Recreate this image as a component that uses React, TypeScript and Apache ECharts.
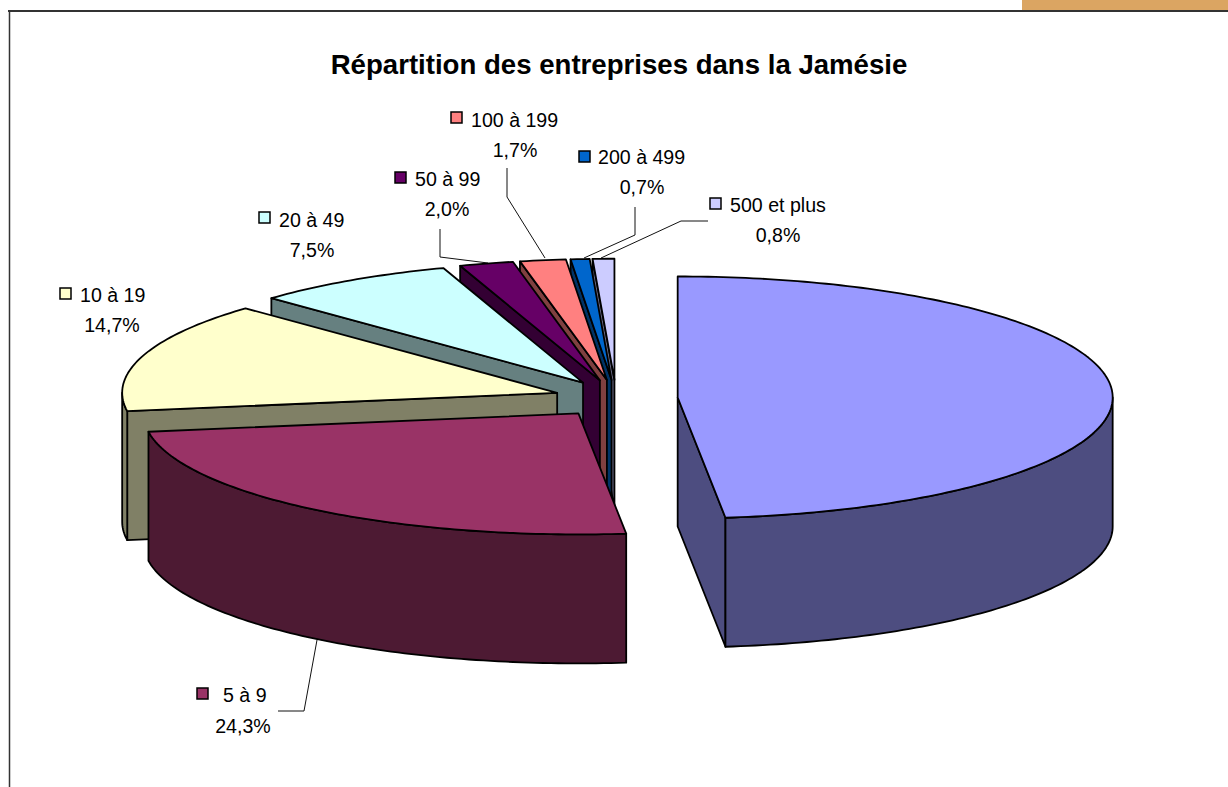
import React, { useEffect, useRef } from "react";
import * as echarts from "echarts";

const TITLE = "Répartition des entreprises dans la Jamésie";
const categories = ["1 à 4", "5 à 9", "10 à 19", "20 à 49", "50 à 99", "100 à 199", "200 à 499", "500 et plus"];
const shares = [48.2, 24.3, 14.7, 7.5, 2.0, 1.7, 0.7, 0.8];
const topColors = ["#9999FF", "#993366", "#FFFFCC", "#CCFFFF", "#660066", "#FF8080", "#0066CC", "#CCCCFF"];
const sideColors = ["#4D4D80", "#4D1A33", "#808066", "#668080", "#330033", "#804040", "#003366", "#666680"];

// Pie geometry (screen pixels)
const CX = 616, CY = 398.5, RX = 435, RY = 121, DEPTH = 129, EXPLODE_X = 0.142, EXPLODE_Y = 0.155;
const FONT = "'Liberation Sans', Arial, sans-serif";
const total = shares.reduce((a, b) => a + b, 0);

// Label placement, in category order: key x, key y, name x, name y, percent x, percent y
const labelLayout = [
  [831, 387, 851, 393, 877, 423],
  [197, 688, 223, 695, 243, 726],
  [60, 288, 80, 295, 112, 325],
  [259, 212, 279, 220, 312, 250],
  [395, 172, 415, 179, 447, 209],
  [451, 112, 471, 120, 515, 150],
  [579, 151, 598, 157, 642, 187],
  [710, 198, 730, 205, 778, 235],
];
const leaderLines = [
  [[507, 168], [507, 197], [545, 258]],
  [[635, 207], [635, 235], [584, 258]],
  [[708, 221], [681, 221], [601, 258]],
  [[440, 229], [440, 257], [488, 263]],
  [[278, 711], [304, 711], [317, 640]],
];

const rad = (d: number) => (d * Math.PI) / 180;

function renderSlice(params: any, api: any) {
  const i = categories.length - 1 - params.dataIndex;
  const before = shares.slice(0, i).reduce((a, b) => a + b, 0);
  const a0 = (before / total) * 360;
  const a1 = a0 + (api.value(0) / total) * 360;
  const mid = rad((a0 + a1) / 2);
  const cx = CX + EXPLODE_X * RX * Math.sin(mid);
  const cy = CY - EXPLODE_Y * RY * Math.cos(mid);
  const pt = (deg: number, dz = 0) => [cx + RX * Math.sin(rad(deg)), cy - RY * Math.cos(rad(deg)) + dz];
  const arc = (from: number, to: number, dz = 0) => {
    const out: number[][] = [];
    const n = Math.max(2, Math.ceil(Math.abs(to - from)));
    for (let k = 0; k <= n; k++) out.push(pt(from + ((to - from) * k) / n, dz));
    return out;
  };
  const style = (fill: string) => ({ fill, stroke: "#000", lineWidth: 1.8, lineJoin: "round" });
  const poly = (points: number[][], fill: string) => ({ type: "polygon", shape: { points }, style: style(fill) });
  const children: any[] = [];
  const side = sideColors[i];
  if (a0 > 180 && a0 < 360) {
    children.push(poly([[cx, cy], pt(a0), pt(a0, DEPTH), [cx, cy + DEPTH]], side));
  }
  if (a1 > 0 && a1 < 180) {
    children.push(poly([[cx, cy], pt(a1), pt(a1, DEPTH), [cx, cy + DEPTH]], side));
  }
  const w0 = Math.max(a0, 90), w1 = Math.min(a1, 270);
  if (w1 > w0) {
    children.push(poly([...arc(w0, w1), ...arc(w1, w0, DEPTH)], side));
  }
  children.push(poly([[cx, cy], ...arc(a0, a1)], topColors[i]));
  return { type: "group", children };
}

function buildGraphics() {
  const els: any[] = [
    { type: "rect", shape: { x: 1022, y: 0, width: 206, height: 10 }, style: { fill: "#DBA562" } },
    { type: "line", shape: { x1: 8, y1: 11, x2: 1228, y2: 11 }, style: { stroke: "#333", lineWidth: 2 } },
    { type: "line", shape: { x1: 9.5, y1: 11, x2: 9.5, y2: 787 }, style: { stroke: "#333", lineWidth: 1.5 } },
  ];
  leaderLines.forEach((points) => {
    els.push({ type: "polyline", shape: { points }, style: { stroke: "#111", lineWidth: 1, fill: "none" } });
  });
  categories.forEach((name, i) => {
    const [kx, ky, nx, ny, px, py] = labelLayout[i];
    const pct = shares[i].toFixed(1).replace(".", ",") + "%";
    els.push({
      type: "rect",
      shape: { x: kx, y: ky, width: 11, height: 11 },
      style: { fill: topColors[i], stroke: "#000", lineWidth: 1.5 },
    });
    els.push({
      type: "text",
      x: nx,
      y: ny,
      style: { text: name, font: `19.6px ${FONT}`, fill: "#000", textAlign: "left", textVerticalAlign: "middle" },
    });
    els.push({
      type: "text",
      x: px,
      y: py,
      style: { text: pct, font: `19.6px ${FONT}`, fill: "#000", textAlign: "center", textVerticalAlign: "middle" },
    });
  });
  return els;
}

export default function App() {
  const ref = useRef<HTMLDivElement>(null);
  useEffect(() => {
    const chart = echarts.init(ref.current!, undefined, { renderer: "svg" });
    chart.setOption({
      animation: false,
      backgroundColor: "#fff",
      title: {
        text: TITLE,
        left: 619,
        top: 45,
        textAlign: "center",
        textStyle: { fontFamily: FONT, fontSize: 27.6, fontWeight: "bold", color: "#000" },
        padding: [5, 10, 5, 0],
      },
      series: [
        {
          type: "custom",
          coordinateSystem: "none",
          silent: true,
          renderItem: renderSlice,
          data: shares.map((v) => [v]).reverse(),
        },
      ],
      graphic: buildGraphics(),
    });
    return () => chart.dispose();
  }, []);
  return <div ref={ref} style={{ position: "fixed", left: 0, top: 0, width: 1228, height: 787 }} />;
}
